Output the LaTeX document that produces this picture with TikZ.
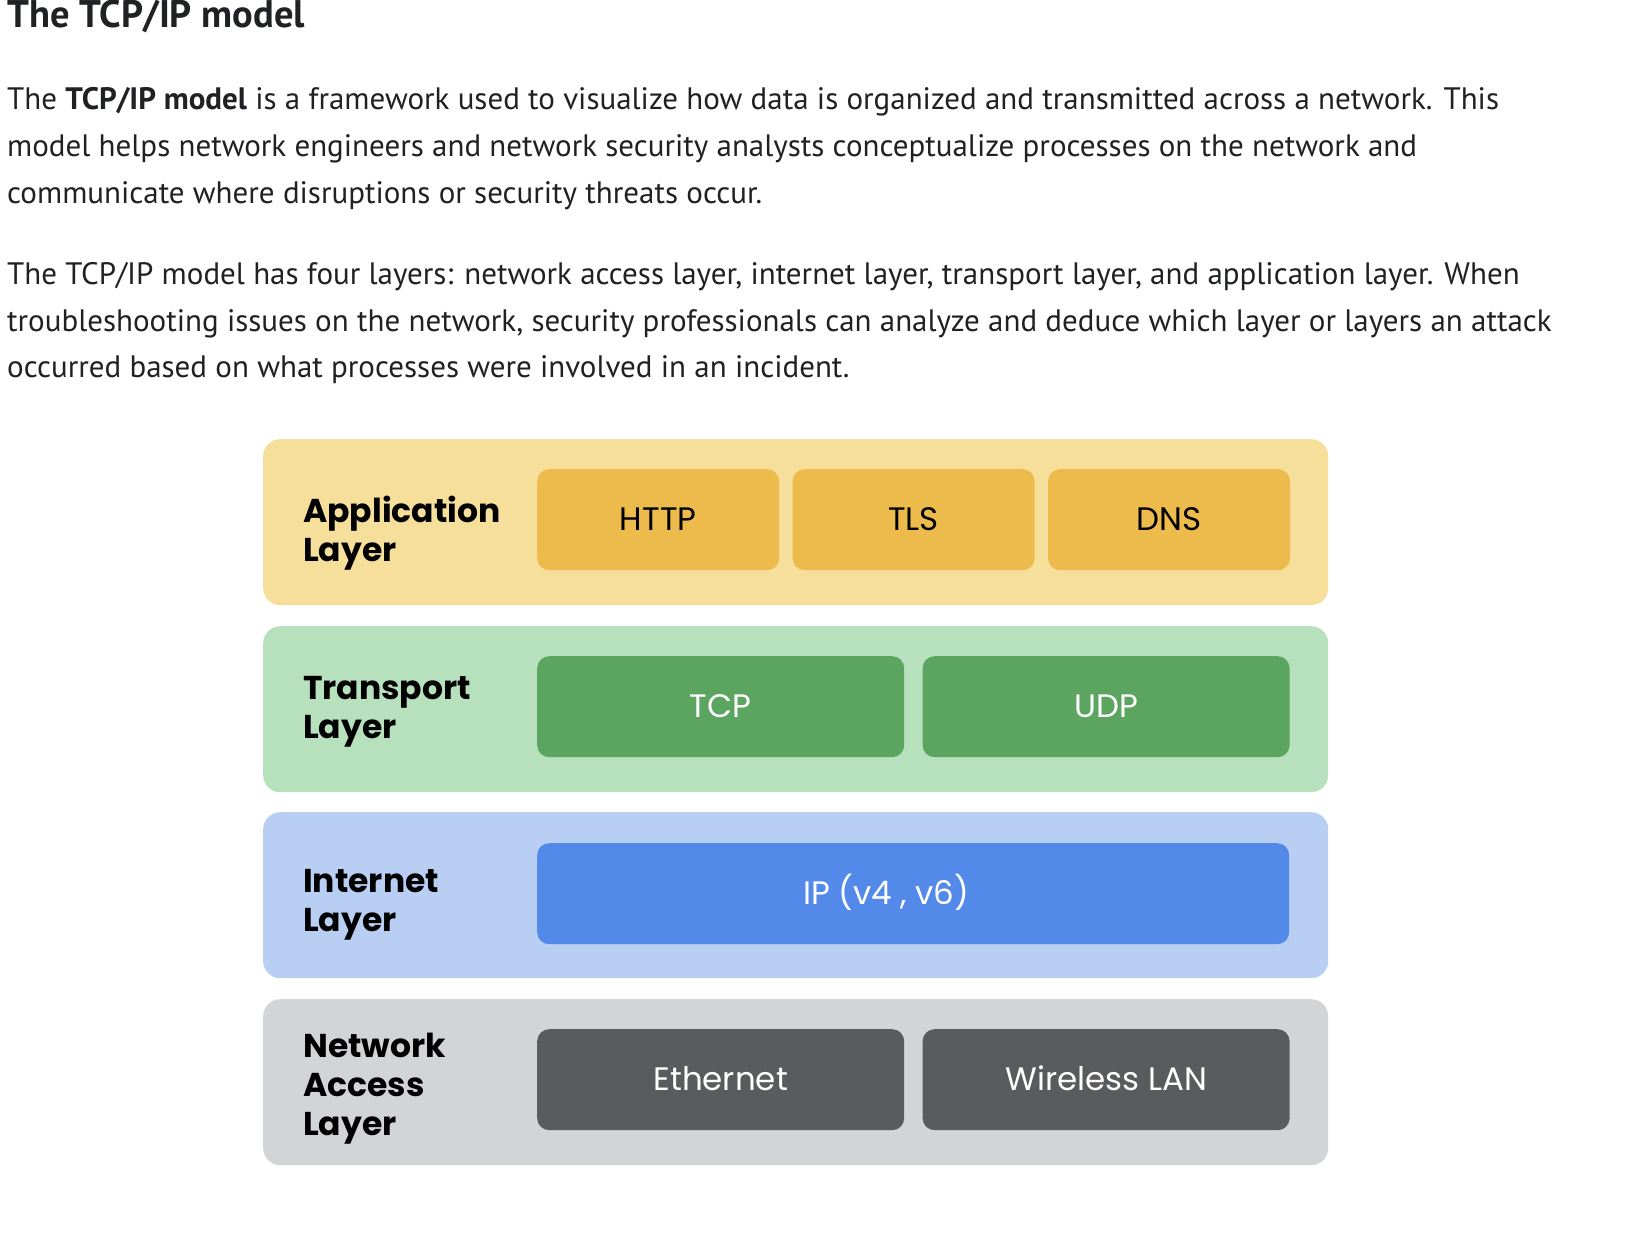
\documentclass[tikz,border=0pt]{standalone}
\usepackage{fontspec}
\setmainfont{PT Sans}
\newfontfamily\geofont{Poppins}
\usetikzlibrary{positioning}

\definecolor{ink}{RGB}{32,33,36}
\definecolor{appbg}{RGB}{246,222,155}
\definecolor{appfg}{RGB}{237,186,76}
\definecolor{trbg}{RGB}{183,224,189}
\definecolor{trfg}{RGB}{91,165,96}
\definecolor{inbg}{RGB}{184,207,243}
\definecolor{infg}{RGB}{83,138,234}
\definecolor{nabg}{RGB}{211,212,214}
\definecolor{nafg}{RGB}{90,91,93}

\tikzset{
    body/.style={anchor=base west, inner sep=0pt, text=ink, font=\fontsize{31}{47}\selectfont},
    layer/.style={rectangle, rounded corners=17pt, anchor=north west, inner sep=0pt,
        minimum width=1065pt, minimum height=166pt},
    lbl/.style={align=left, inner sep=0pt, text=black,
        font=\geofont\bfseries\fontsize{33}{39}\selectfont},
    proto/.style={rectangle, rounded corners=12pt, anchor=north west, inner sep=0pt,
        minimum height=101pt, text height=22.5pt, text depth=0pt,
        font=\geofont\fontsize{32.5}{38}\selectfont},
}

\begin{document}
\begin{tikzpicture}[x=1pt, y=-1pt]
    \fill[white] (0,0) rectangle (1634,1238);

    \node[body, font=\fontsize{38.5}{46}\selectfont\bfseries] (title) at (7,28) {The TCP/IP model};

    \node[body] (p1a) at (7,110) {The \textbf{TCP/IP model} is a framework used to visualize how data is organized and transmitted across a network. This};
    \node[body] (p1b) at (7,157) {model helps network engineers and network security analysts conceptualize processes on the network and};
    \node[body] (p1c) at (7,204) {communicate where disruptions or security threats occur.};

    \node[body] (p2a) at (7,285) {The TCP/IP model has four layers: network access layer, internet layer, transport layer, and application layer. When};
    \node[body] (p2b) at (7,332) {troubleshooting issues on the network, security professionals can analyze and deduce which layer or layers an attack};
    \node[body] (p2c) at (7,378) {occurred based on what processes were involved in an incident.};

    \foreach \n/\y/\col in {app/439/app, trans/626/tr, inet/812/in, nacc/999/na}
        \node[layer, fill=\col bg] (\n) at (263,\y) {};

    \node[lbl, right=40pt of app.west, yshift=-11pt] (applbl) {Application\\Layer};
    \node[lbl, right=40pt of trans.west, yshift=-3pt] (translbl) {Transport\\Layer};
    \node[lbl, right=40pt of inet.west, yshift=-10pt] (inetlbl) {Internet\\Layer};
    \node[lbl, right=40pt of nacc.west, yshift=-6pt] (nacclbl) {Network\\Access\\Layer};

    \node[proto, fill=appfg, minimum width=242pt] (http) at (537,469) {HTTP};
    \node[proto, fill=appfg, minimum width=242pt, right=13pt of http] (tls) {TLS};
    \node[proto, fill=appfg, minimum width=242pt, right=13pt of tls] (dns) {DNS};

    \node[proto, fill=trfg, text=white, minimum width=367pt] (tcp) at (537,656) {TCP};
    \node[proto, fill=trfg, text=white, minimum width=367pt, right=18pt of tcp] (udp) {UDP};

    \node[proto, fill=infg, text=white, minimum width=752pt] (ip) at (537,843) {IP (v4 , v6)\hspace*{54pt}};

    \node[proto, fill=nafg, text=white, minimum width=367pt] (eth) at (537,1029) {Ethernet};
    \node[proto, fill=nafg, text=white, minimum width=367pt, right=18pt of eth] (wlan) {Wireless LAN};
\end{tikzpicture}
\end{document}
